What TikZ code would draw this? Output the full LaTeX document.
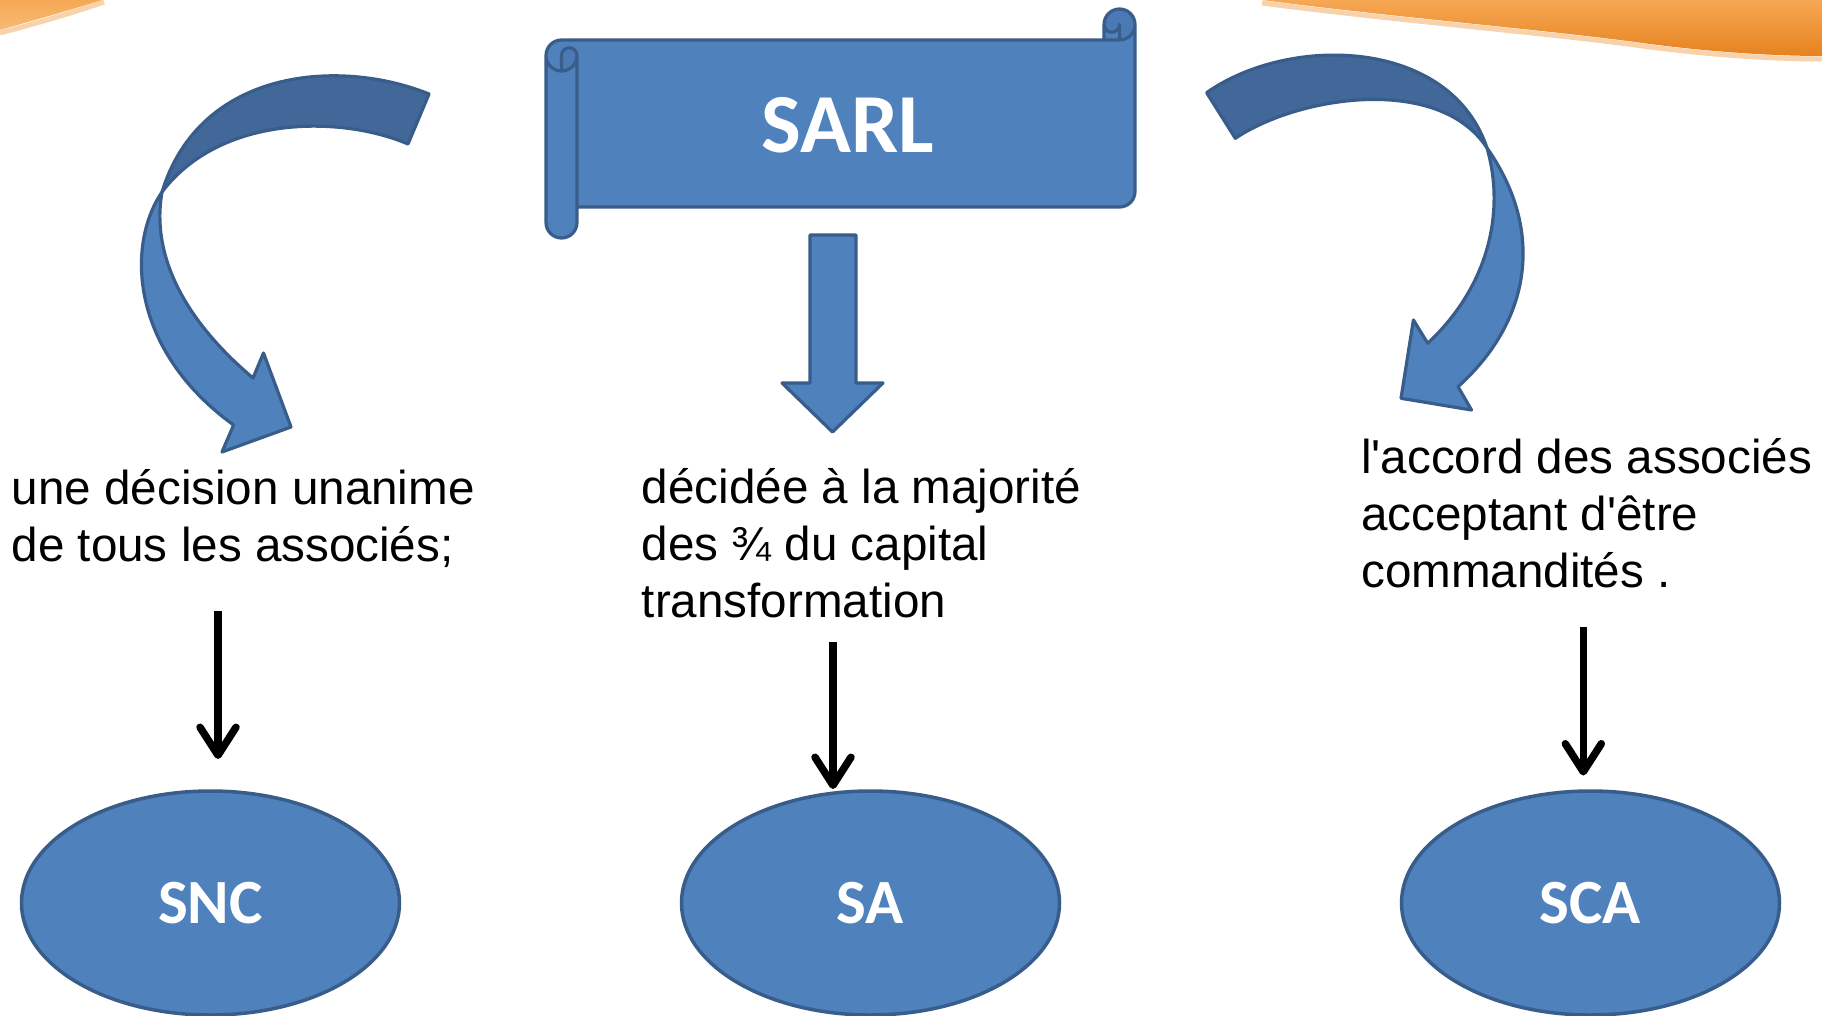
\documentclass[tikz,border=0pt]{standalone}
\usepackage{fontspec}
\newfontfamily\bodyf{Liberation Sans}
\newfontfamily\calib{Carlito}
\usetikzlibrary{arrows.meta,shapes.geometric}
\definecolor{bfill}{HTML}{4F81BD}
\definecolor{bline}{HTML}{385D8A}
\definecolor{bdark}{HTML}{416898}
\definecolor{bdarkless}{HTML}{4A79B3}
\definecolor{orgA}{HTML}{F6A854}
\definecolor{orgB}{HTML}{E6821F}
\definecolor{orgL}{HTML}{F8D2AA}
\tikzset{
  blueshape/.style={fill=bfill, draw=bline, line width=3.2pt, line join=round},
  darkshape/.style={fill=bdark, draw=bline, line width=3.2pt, line join=round},
  txt/.style={font={\bodyf\fontsize{47.6}{57}\selectfont}, align=left, inner sep=0pt, anchor=base west},
  oval/.style={ellipse, draw=bline, fill=bfill, line width=3.5pt, minimum width=378pt, minimum height=224pt, inner sep=0pt, text=white, font={\calib\bfseries\fontsize{63}{63}\selectfont}},
  blk/.style={line width=7.5pt, -{Straight Barb[length=28pt, width=36pt, line cap=round, line join=round]}}
}
\begin{document}
\begin{tikzpicture}[x=1pt, y=-1pt]
\useasboundingbox (0,0) rectangle (1822,1016);
\fill[white] (0,0) rectangle (1822,1016);

% orange swooshes
\draw[orgL, line width=5pt] (1262,3) .. controls (1400,21) and (1550,33) .. (1650,47) .. controls (1720,56) and (1780,59) .. (1822,59);
\shade[top color=orgA, bottom color=orgB] (1262,0) .. controls (1400,18) and (1550,30) .. (1650,44) .. controls (1720,53) and (1780,56) .. (1822,56) -- (1822,0) -- cycle;
\draw[orgL, line width=5pt] (104,2) .. controls (66,15) and (30,25) .. (0,33);
\shade[top color=orgA, bottom color=orgA!80!white] (0,0) -- (102,0) .. controls (64,12) and (28,22) .. (0,30) -- cycle;

% scroll (SARL)
\fill[bfill] (1135,24.5) arc[start angle=0, delta angle=90, radius=15.5] -- (1119.5,24.5) arc[start angle=0, delta angle=180, radius=7.75] -- (1104,40) -- (561.5,40) arc[start angle=270, delta angle=-90, radius=15.5] -- (546,222.5) arc[start angle=180, delta angle=-180, radius=15.5] -- (577,207) -- (1119.5,207) arc[start angle=90, delta angle=-90, radius=15.5] -- cycle;
\fill[bdarkless] (561.5,71) arc[start angle=90, delta angle=-90, radius=15.5] arc[start angle=0, delta angle=-180, radius=7.75] -- cycle;
\fill[bdarkless] (1119.5,40) arc[start angle=90, delta angle=-270, radius=15.5] arc[start angle=180, delta angle=-180, radius=7.75] -- cycle;
\draw[bline, line width=3.2pt, line join=round, line cap=round]
  (546,55.5) arc[start angle=180, delta angle=90, radius=15.5] -- (1104,40) -- (1104,24.5) arc[start angle=180, delta angle=180, radius=15.5] -- (1135,191.5) arc[start angle=0, delta angle=90, radius=15.5] -- (577,207) -- (577,222.5) arc[start angle=0, delta angle=180, radius=15.5] -- cycle
  (1104,40) -- (1119.5,40) arc[start angle=90, delta angle=-180, radius=15.5]
  (1119.5,40) -- (1119.5,24.5) arc[start angle=0, delta angle=180, radius=7.75]
  (561.5,71) -- (561.5,55.5) arc[start angle=180, delta angle=180, radius=7.75] arc[start angle=0, delta angle=180, radius=15.5]
  (577,55.5) -- (577,207);
\node[anchor=base, inner sep=0pt, text=white, font={\calib\bfseries\fontsize{84}{84}\selectfont}] (sarl) at (848,153) {SARL};

% straight block arrow
\draw[blueshape] (810,235) -- (856,235) -- (856,383) -- (883,383) -- (832.5,432) -- (782,383) -- (810,383) -- cycle;

% left curved arrow
\draw[darkshape] (429,94) .. controls (340,58) and (200,68) .. (162,192) .. controls (220,115) and (340,115) .. (408,144) -- cycle;
\draw[blueshape] (162,192) .. controls (126,245) and (130,350) .. (233.6,425) -- (222,452) -- (291,427) -- (263.5,353) -- (253,378) .. controls (190,325) and (150,260) .. (162,192) -- cycle;

% right curved arrow
\draw[darkshape] (1206.6,92.7) .. controls (1290,34) and (1450,38) .. (1487,148) .. controls (1440,75) and (1300,95) .. (1235.3,138.3) -- cycle;
\draw[blueshape] (1487,148) .. controls (1546,232) and (1530,322) .. (1458,386.7) -- (1471.5,410) -- (1401,398.3) -- (1413.4,320) -- (1427.7,343.3) .. controls (1490,285) and (1505,210) .. (1487,148) -- cycle;

% texts (base = last line)
\node[txt] (tL) at (11.5,561) {une décision unanime\\de tous les associés;};
\node[txt] (tM) at (641.7,617) {décidée à la majorité\\des ¾ du capital\\transformation};
\node[txt] (tR) at (1361,587) {l'accord des associés\\acceptant d'être\\commandités .};

% ellipses
\node[oval] (snc) at (210.5,903) {SNC};
\node[oval] (sa) at (870.5,903) {SA};
\node[oval] (sca) at (1590.5,903) {SCA};

% black arrows
\coordinate (aL1) at (218,611);
\coordinate (aL2) at (218,759);
\coordinate (aM1) at (833,641.5);
\coordinate (aM2) at (833,789);
\coordinate (aR1) at (1583.3,627);
\coordinate (aR2) at (1583.3,775.5);
\draw[blk] (aL1) -- (aL2);
\draw[blk] (aM1) -- (aM2);
\draw[blk] (aR1) -- (aR2);
\end{tikzpicture}
\end{document}
